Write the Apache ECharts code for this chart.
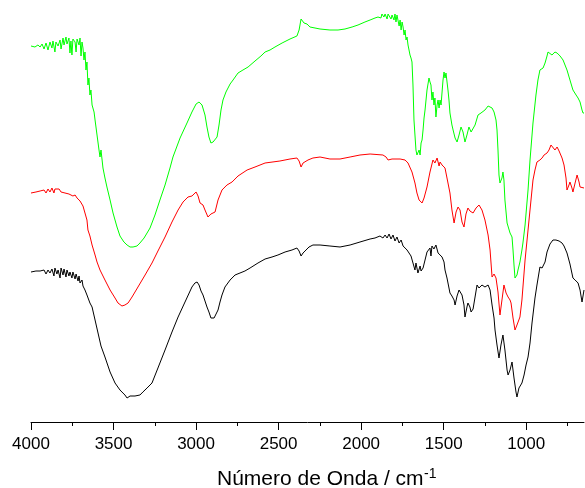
<!DOCTYPE html>
<html>
<head>
<meta charset="utf-8">
<script src="https://cdn.jsdelivr.net/npm/echarts@6/dist/echarts.min.js"></script>
<style>html,body{margin:0;padding:0;background:#fff;}#c{width:585px;height:488px;}</style>
</head>
<body>
<div id="c"></div>
<script>
// Wavenumber (cm-1) and transmittance (arbitrary, offset units) for each spectrum
const greenWn = [4000,3976,3958,3945,3933,3921,3909,3897,3885,3873,3867,3855,3849,3836,3824,3818,3806,3800,3788,3782,3770,3764,3758,3752,3746,3733,3727,3721,3709,3703,3697,3691,3685,3679,3673,3667,3661,3655,3649,3643,3637,3630,3618,3612,3600,3588,3582,3576,3564,3552,3540,3521,3503,3479,3461,3437,3418,3400,3382,3358,3340,3315,3297,3279,3249,3219,3188,3158,3140,3097,3055,3025,3000,2982,2964,2946,2934,2922,2910,2897,2885,2873,2861,2849,2837,2819,2794,2776,2746,2716,2685,2643,2607,2582,2552,2522,2479,2431,2389,2376,2364,2358,2352,2346,2340,2328,2310,2298,2249,2189,2140,2098,2055,2019,1977,1946,1916,1898,1886,1880,1874,1862,1855,1843,1837,1831,1825,1819,1813,1807,1801,1795,1789,1783,1777,1770,1764,1758,1752,1746,1740,1734,1728,1722,1716,1710,1704,1698,1692,1686,1680,1674,1668,1662,1656,1649,1643,1637,1631,1625,1619,1613,1601,1589,1583,1577,1571,1565,1559,1553,1547,1540,1534,1528,1522,1516,1510,1504,1498,1492,1486,1480,1474,1468,1462,1450,1443,1431,1419,1407,1395,1383,1371,1359,1347,1334,1322,1310,1292,1274,1250,1231,1219,1207,1195,1183,1177,1171,1165,1159,1153,1147,1141,1135,1129,1116,1098,1086,1080,1074,1068,1062,1056,1050,1038,1026,1020,1007,989,977,959,941,929,917,898,886,874,868,856,844,838,826,813,795,777,753,735,717,698,686,674,662,656,650];
const greenT = [376,375,377,375,378,373,379,372,380,374,381,370,380,376,382,373,384,377,385,378,384,369,381,367,383,380,370,383,377,384,366,380,374,362,370,352,360,337,344,327,332,317,310,302,287,272,265,272,254,244,235,222,209,195,186,180,177,175,175,176,179,184,189,194,207,222,237,254,265,284,299,310,318,320,317,307,295,285,279,280,282,285,297,312,322,330,338,342,349,352,355,361,366,370,372,375,379,383,386,392,403,405,402,399,401,398,395,394,393,392,392,393,395,397,400,402,404,405,407,404,408,405,408,403,408,406,409,403,407,409,402,408,400,407,405,396,402,392,400,395,387,392,382,385,377,372,367,364,360,337,302,287,272,267,265,272,267,279,282,292,304,312,332,344,340,337,322,330,317,324,305,317,322,314,322,317,319,342,350,344,349,347,332,322,309,297,292,284,280,287,295,290,280,287,295,290,292,297,307,309,312,316,316,314,310,302,292,272,247,239,237,244,250,242,222,199,189,185,172,157,144,144,147,152,160,172,179,197,232,262,299,327,342,352,354,359,366,370,369,367,369,370,369,366,362,352,342,332,327,324,320,312,309,309];

const redWn = [4000,3988,3970,3958,3945,3933,3921,3909,3897,3885,3873,3861,3855,3843,3830,3818,3806,3794,3782,3770,3758,3746,3733,3721,3709,3703,3691,3685,3679,3673,3661,3655,3643,3630,3612,3600,3582,3552,3521,3491,3473,3449,3431,3412,3388,3352,3309,3267,3231,3188,3146,3109,3079,3049,3025,3013,3000,2988,2976,2958,2946,2928,2910,2885,2867,2843,2813,2782,2746,2691,2643,2582,2492,2431,2389,2376,2364,2352,2340,2322,2292,2249,2189,2128,2067,2007,1946,1868,1849,1837,1813,1764,1734,1716,1692,1674,1662,1649,1631,1619,1601,1583,1565,1553,1540,1528,1522,1510,1492,1480,1462,1450,1437,1425,1413,1401,1389,1377,1365,1353,1341,1322,1304,1286,1268,1250,1231,1219,1207,1195,1183,1171,1159,1147,1135,1122,1110,1098,1092,1080,1068,1056,1038,1026,1007,995,983,971,959,947,935,917,904,892,874,862,850,838,826,813,801,783,771,759,753,741,735,723,717,704,692,680,674,662,650];
const redT = [229,229,230,228,231,229,232,229,233,230,234,229,233,231,233,230,232,229,231,228,230,226,227,224,224,221,219,216,214,209,202,192,186,177,167,160,152,142,132,124,119,116,117,119,125,135,147,159,171,185,200,212,220,225,226,228,230,226,219,217,212,205,208,210,222,232,237,240,246,252,255,259,261,263,264,261,255,259,259,262,264,265,263,263,265,267,268,267,265,262,263,263,262,259,250,239,229,222,219,224,235,250,262,259,264,256,260,257,254,244,229,212,199,210,215,212,200,195,208,214,211,209,214,217,212,202,187,172,145,148,144,130,107,122,137,129,125,122,119,104,92,97,105,122,162,182,202,222,242,252,260,262,264,267,269,272,277,276,272,275,271,264,257,244,232,237,240,234,230,239,247,240,235,234,234];

const blackWn = [4000,3988,3970,3958,3945,3933,3921,3909,3897,3885,3873,3861,3855,3843,3836,3824,3818,3806,3800,3788,3782,3770,3764,3752,3746,3733,3727,3715,3709,3703,3691,3685,3679,3673,3661,3643,3630,3612,3594,3576,3552,3521,3491,3461,3431,3418,3400,3370,3340,3322,3297,3267,3231,3188,3146,3109,3067,3025,3007,2994,2982,2970,2958,2946,2934,2922,2910,2903,2891,2879,2867,2855,2843,2825,2794,2764,2734,2704,2673,2625,2582,2540,2504,2461,2419,2389,2376,2364,2352,2340,2316,2292,2249,2189,2128,2067,2007,1946,1916,1886,1868,1855,1843,1831,1819,1807,1795,1783,1770,1758,1746,1734,1722,1710,1698,1686,1674,1668,1656,1643,1637,1625,1613,1601,1595,1583,1577,1571,1559,1547,1534,1522,1510,1498,1492,1480,1468,1462,1450,1437,1431,1419,1407,1401,1389,1377,1371,1359,1353,1341,1334,1322,1310,1298,1286,1268,1250,1231,1219,1207,1195,1189,1177,1165,1153,1141,1129,1116,1110,1098,1086,1074,1062,1056,1044,1038,1026,1013,1001,989,977,965,947,935,917,904,892,886,874,856,838,820,801,783,771,753,735,717,704,686,674,662,656,650];
const blackT = [150,150,151,149,151,150,152,148,152,149,153,146,154,148,152,144,154,147,153,145,152,146,150,144,150,143,148,141,146,139,142,136,138,132,127,119,115,102,89,76,65,50,39,32,27,24,26,26,27,30,34,39,54,72,90,105,120,135,139,140,137,131,127,121,115,110,104,102,104,108,112,120,127,135,142,147,149,151,154,159,163,165,167,170,172,174,171,166,169,170,175,177,177,176,175,177,180,183,184,186,184,187,184,188,183,187,181,185,179,182,176,178,172,173,166,164,152,159,149,156,151,154,162,170,172,174,166,176,173,177,169,169,165,160,152,144,134,129,126,122,117,126,132,134,127,117,105,115,119,115,110,113,125,137,134,137,135,137,132,117,104,92,77,64,77,87,72,52,47,52,60,44,30,25,34,32,39,47,57,65,79,99,124,137,155,154,152,160,170,178,182,182,181,179,176,169,158,144,142,139,132,120,126,132];

const majorTicks = [4000,3500,3000,2500,2000,1500,1000];
const minorTicks = [3750,3250,2750,2250,1750,1250,750];
const xTitle = 'Número de Onda / cm';
const xTitleSup = '-1';

function pairs(wn, t){ return wn.map((w,i)=>[w,t[i]]); }

const chart = echarts.init(document.getElementById('c'), null, {renderer:'canvas'});
const FONT = '"Liberation Sans", Arial, sans-serif';
const axBase = {type:'value', min:650, max:4000, inverse:true, position:'bottom', splitLine:{show:false}};
chart.setOption({
  animation:false,
  backgroundColor:'#fff',
  grid:{left:31, right:1, top:0, bottom:66, containLabel:false},
  xAxis:[
    Object.assign({}, axBase, {
      axisLine:{show:true, lineStyle:{color:'#000', width:1}},
      axisTick:{show:true, customValues:majorTicks, length:8, lineStyle:{color:'#000', width:1}},
      axisLabel:{show:true, customValues:majorTicks, margin:14, color:'#000', fontSize:17, fontFamily:FONT, formatter:function(v){return String(v);}}
    }),
    Object.assign({}, axBase, {
      axisLine:{show:false},
      axisTick:{show:true, customValues:minorTicks, length:4, lineStyle:{color:'#000', width:1}},
      axisLabel:{show:false}
    })
  ],
  yAxis:{type:'value', min:0, max:422, show:false, splitLine:{show:false}},
  series:[
    {type:'line', name:'black', data:pairs(blackWn, blackT), showSymbol:false, symbol:'none', lineStyle:{color:'#000000', width:1}, itemStyle:{color:'#000'}},
    {type:'line', name:'red', data:pairs(redWn, redT), showSymbol:false, symbol:'none', lineStyle:{color:'#ff0000', width:1}, itemStyle:{color:'#f00'}},
    {type:'line', name:'green', data:pairs(greenWn, greenT), showSymbol:false, symbol:'none', lineStyle:{color:'#00ff00', width:1}, itemStyle:{color:'#0f0'}}
  ],
  graphic:[
    {type:'text', left:217, top:469, style:{text:xTitle, font:'21px '+FONT, fill:'#000'}},
    {type:'text', left:424, top:467, style:{text:xTitleSup, font:'14px '+FONT, fill:'#000'}}
  ]
});
</script>
</body>
</html>
